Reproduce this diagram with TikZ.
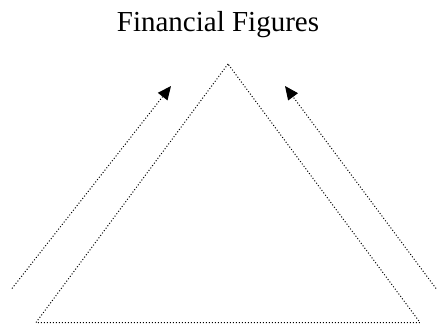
\documentclass[tikz,border=0pt]{standalone}
\usepackage{fontspec}
\setmainfont{Liberation Serif}
\usetikzlibrary{arrows.meta}
\begin{document}
\begin{tikzpicture}[x=1pt,y=-1pt,
  dotline/.style={line width=1pt, dotted, line cap=butt},
  arr/.style={dotline, -{Triangle[length=13.5pt,width=12pt]}},
  title/.style={font=\fontsize{29}{34}\selectfont, inner sep=0pt}]
\useasboundingbox (0,0) rectangle (437,324);
\node[title, anchor=base] (t) at (218,31) {Financial Figures};
\coordinate (apex) at (228,64);
\coordinate (bl) at (36,322.5);
\coordinate (br) at (420,322.5);
\draw[dotline] (apex) -- (bl) -- (br) -- cycle;
\coordinate (ls) at (12,288.5);
\coordinate (le) at (171,86);
\coordinate (rs) at (436,288.5);
\coordinate (re) at (285,86);
\draw[arr] (ls) -- (le);
\draw[arr] (rs) -- (re);
\end{tikzpicture}
\end{document}
